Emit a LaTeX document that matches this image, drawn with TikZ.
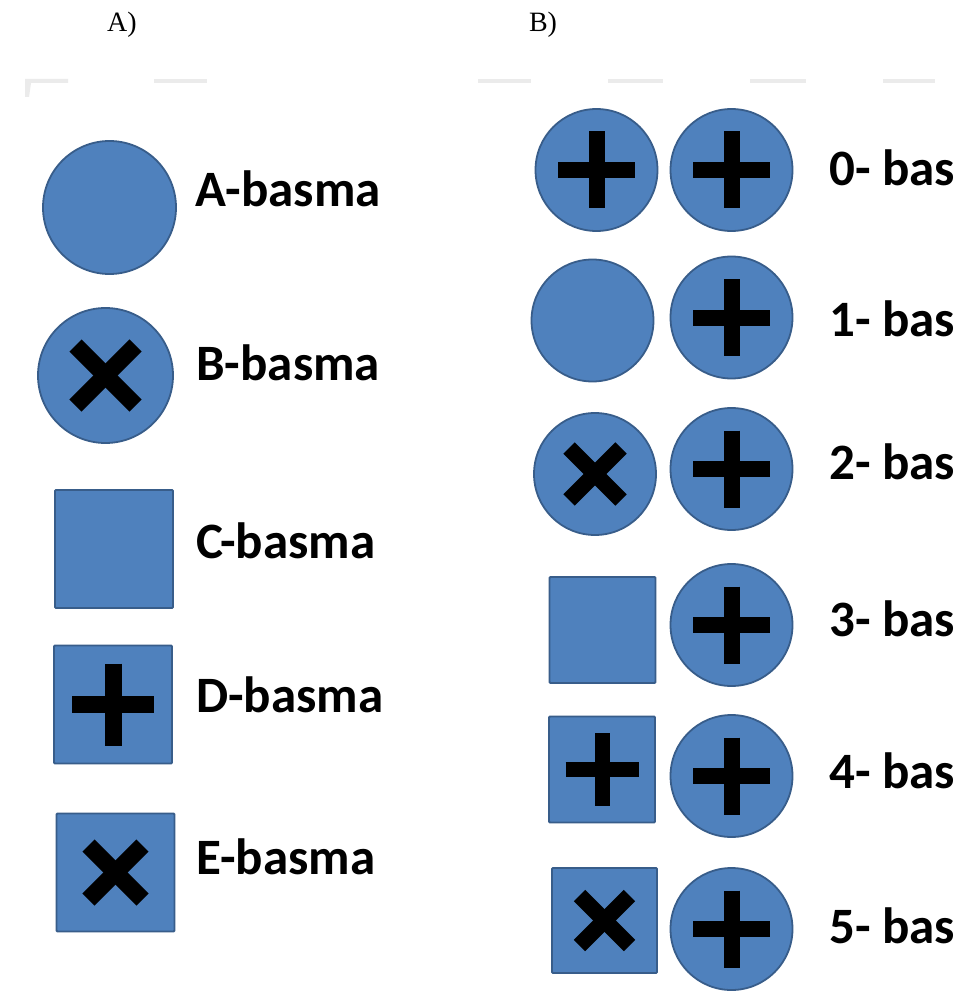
\documentclass[tikz,border=0pt]{standalone}
\usepackage{fontspec}
\setmainfont{Carlito}
\newfontfamily\timesf{Liberation Serif}
\usetikzlibrary{calc}
\definecolor{shapeblue}{HTML}{4F81BD}
\definecolor{shapeedge}{HTML}{385D8A}
\definecolor{faintgray}{HTML}{EBEBEB}
\newcommand\plusmk[3]{%
  \draw[markbar,line width=#3] ($(#1)+(-#2,0)$) -- ($(#1)+(#2,0)$);
  \draw[markbar,line width=#3] ($(#1)+(0,-#2)$) -- ($(#1)+(0,#2)$);}
\newcommand\crossmk[3]{%
  \draw[markbar,line width=#3] ($(#1)+(-#2,-#2)$) -- ($(#1)+(#2,#2)$);
  \draw[markbar,line width=#3] ($(#1)+(-#2,#2)$) -- ($(#1)+(#2,-#2)$);}
\tikzset{
  disc/.style={circle,fill=shapeblue,draw=shapeedge,line width=1.8,inner sep=0,minimum size=#1},
  sqbox/.style={rectangle,fill=shapeblue,draw=shapeedge,line width=1.8,inner sep=0,minimum size=#1,rounded corners=1},
  markbar/.style={draw=black,line cap=butt},
  lbl/.style={anchor=base west,inner sep=0,font=\fontsize{51}{60}\selectfont\bfseries},
  head/.style={anchor=center,inner sep=0,font=\timesf\fontsize{28}{32}\selectfont},
  fband/.style={fill=faintgray,draw=none}
}
\begin{document}
\begin{tikzpicture}[x=1pt,y=-1pt]
\useasboundingbox[fill=white] (0,0) rectangle (957,992);
% faint gray bands
\fill[fband] (25,79) -- (68,79) -- (68,83) -- (31,83) -- (29,97) -- (25,97) -- cycle;
\fill[fband] (154,79) rectangle (207,83);
\fill[fband] (478,79) rectangle (531,83);
\fill[fband] (608,79) rectangle (663,83);
\fill[fband] (750,79) rectangle (806,83);
\fill[fband] (883,79) rectangle (935,83);
% headings
\node[head] (hA) at (122,25) {A)};
\node[head] (hB) at (543,25) {B)};
% left column
\node[disc=133] (A) at (109.5,207.5) {};
\node[lbl] (tA) at (195,207) {A-basma};
\node[disc=135] (B) at (105.5,375.5) {};
\crossmk{B}{30}{17}
\node[lbl] (tB) at (196,380) {B-basma};
\node[sqbox=118] (C) at (114,549) {};
\node[lbl] (tC) at (196,558) {C-basma};
\node[sqbox=118] (D) at (113,704.5) {};
\plusmk{D}{41}{17}
\node[lbl] (tD) at (196,712) {D-basma};
\node[sqbox=118] (E) at (115.5,872.5) {};
\crossmk{E}{27}{17}
\node[lbl] (tE) at (196,874) {E-basma};
% right column
\node[disc=122] (L0) at (596.5,170) {};
\plusmk{L0}{38.5}{16}
\node[disc=122] (R0) at (731.5,170) {};
\plusmk{R0}{38.5}{16}
\node[lbl] (t0) at (829,186) {0- bas};
\node[disc=122] (L1) at (592.5,320.5) {};
\node[disc=122] (R1) at (731.5,317.5) {};
\plusmk{R1}{38.5}{16}
\node[lbl] (t1) at (829,336) {1- bas};
\node[disc=122] (L2) at (595,474) {};
\crossmk{L2}{26}{16}
\node[disc=122] (R2) at (731.5,469) {};
\plusmk{R2}{38.5}{16}
\node[lbl] (t2) at (829,479) {2- bas};
\node[sqbox=106] (L3) at (602.5,630) {};
\node[disc=122] (R3) at (731.5,625) {};
\plusmk{R3}{38.5}{16}
\node[lbl] (t3) at (829,636) {3- bas};
\node[sqbox=106] (L4) at (602,769.5) {};
\plusmk{L4}{36.5}{15}
\node[disc=122] (R4) at (731.5,776) {};
\plusmk{R4}{38.5}{16}
\node[lbl] (t4) at (829,788) {4- bas};
\node[sqbox=105] (L5) at (604.5,920.5) {};
\crossmk{L5}{25}{16}
\node[disc=122] (R5) at (731.5,929) {};
\plusmk{R5}{38.5}{16}
\node[lbl] (t5) at (829,943) {5- bas};
\end{tikzpicture}
\end{document}
